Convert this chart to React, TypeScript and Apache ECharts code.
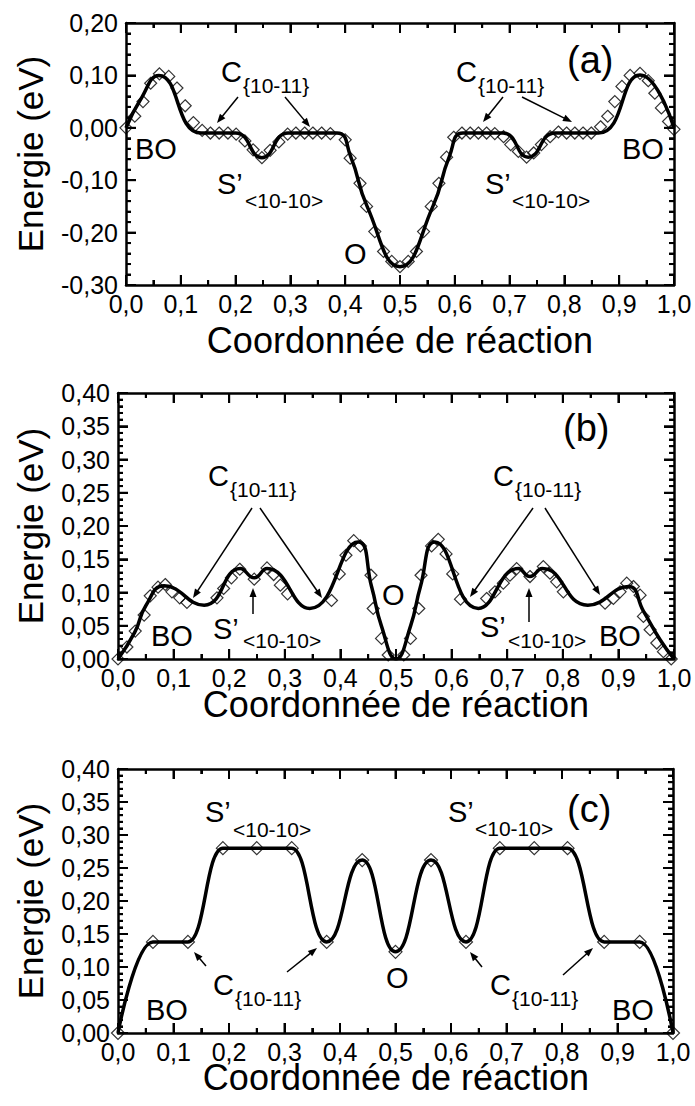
import React, { useEffect, useRef } from "react";
import * as echarts from "echarts";

// ---------- data ----------
// Panel (a): smooth fitted curve (key points) and computed points (diamonds)
const aLineX = [0, 0.026, 0.06, 0.137, 0.2, 0.248, 0.296, 0.385, 0.41, 0.44, 0.5, 0.56, 0.59, 0.615, 0.688, 0.734, 0.783, 0.862, 0.938, 1];
const aLineY = [0, 0.053, 0.1, -0.01, -0.01, -0.057, -0.01, -0.01, -0.055, -0.15, -0.265, -0.15, -0.055, -0.01, -0.01, -0.056, -0.01, -0.01, 0.101, 0];
const aMarkX = [
  0, 0.016, 0.031, 0.045, 0.061, 0.078, 0.093, 0.108, 0.123, 0.139,
  0.154, 0.17, 0.186, 0.201, 0.217, 0.232, 0.248, 0.263, 0.279, 0.295,
  0.31, 0.326, 0.341, 0.357, 0.373, 0.4, 0.409, 0.427, 0.439, 0.454,
  0.47, 0.485, 0.5, 0.515, 0.53, 0.543, 0.557, 0.571, 0.585, 0.598,
  0.613, 0.628, 0.643, 0.658, 0.673, 0.689, 0.702, 0.716, 0.731, 0.744,
  0.758, 0.774, 0.789, 0.804, 0.819, 0.834, 0.849, 0.866, 0.879, 0.892,
  0.905, 0.92, 0.938, 0.953, 0.965, 0.977, 0.99, 1.0,
];
const aMarkY = [
  0, 0.022, 0.05, 0.085, 0.103, 0.098, 0.076, 0.042, 0.01, -0.005,
  -0.01, -0.01, -0.01, -0.012, -0.025, -0.042, -0.057, -0.043, -0.027, -0.012,
  -0.01, -0.01, -0.01, -0.01, -0.011, -0.023, -0.058, -0.106, -0.15, -0.198,
  -0.236, -0.255, -0.265, -0.255, -0.236, -0.198, -0.15, -0.106, -0.056, -0.018,
  -0.01, -0.01, -0.01, -0.01, -0.011, -0.017, -0.032, -0.045, -0.056, -0.048,
  -0.032, -0.017, -0.008, -0.01, -0.01, -0.01, -0.01, 0.002, 0.022, 0.05,
  0.079, 0.1, 0.104, 0.09, 0.066, 0.038, 0.012, -0.003,
];

// Panel (b)
const bLineX = [0, 0.03, 0.05, 0.083, 0.155, 0.22, 0.245, 0.268, 0.345, 0.432, 0.456, 0.474, 0.5, 0.526, 0.544, 0.57, 0.648, 0.72, 0.741, 0.763, 0.845, 0.918, 0.945, 0.975, 1];
const bLineY = [0, 0.04, 0.08, 0.11, 0.081, 0.136, 0.122, 0.136, 0.076, 0.176, 0.109, 0.049, 0, 0.049, 0.109, 0.176, 0.076, 0.136, 0.124, 0.136, 0.081, 0.109, 0.072, 0.029, 0];
const bMarkX = [
  0, 0.016, 0.031, 0.047, 0.058, 0.072, 0.085, 0.097, 0.111, 0.124,
  0.178, 0.19, 0.204, 0.219, 0.245, 0.268, 0.28, 0.292, 0.305,
  0.384, 0.398, 0.41, 0.424, 0.436, 0.455, 0.459, 0.474, 0.486,
  0.514, 0.526, 0.541, 0.545, 0.564, 0.576, 0.59, 0.602, 0.616,
  0.663, 0.678, 0.693, 0.705, 0.717, 0.741, 0.765, 0.777, 0.789, 0.801,
  0.876, 0.891, 0.903, 0.915, 0.927, 0.939, 0.945, 0.957, 0.969, 0.981, 0.995,
];
const bMarkY = [
  0, 0.018, 0.042, 0.066, 0.095, 0.108, 0.112, 0.101, 0.092, 0.085,
  0.092, 0.106, 0.122, 0.135, 0.12, 0.137, 0.127, 0.111, 0.098,
  0.088, 0.128, 0.156, 0.178, 0.17, 0.126, 0.076, 0.031, 0.006,
  0.006, 0.031, 0.076, 0.126, 0.17, 0.18, 0.158, 0.128, 0.09,
  0.091, 0.101, 0.114, 0.126, 0.136, 0.124, 0.139, 0.129, 0.116, 0.101,
  0.084, 0.091, 0.101, 0.114, 0.109, 0.096, 0.064, 0.044, 0.024, 0.011, 0,
];

// Panel (c)
const cX = [0, 0.063, 0.126, 0.189, 0.25, 0.313, 0.376, 0.44, 0.5, 0.564, 0.627, 0.688, 0.75, 0.81, 0.876, 0.94, 1];
const cY = [0, 0.138, 0.138, 0.28, 0.28, 0.28, 0.138, 0.262, 0.123, 0.262, 0.138, 0.28, 0.28, 0.28, 0.138, 0.138, 0];

// Tick values (major) of the axes
const xMajorTicks = [0, 0.1, 0.2, 0.3, 0.4, 0.5, 0.6, 0.7, 0.8, 0.9, 1.0];
const yMajorTicksA = [-0.3, -0.2, -0.1, 0, 0.1, 0.2];
const yMajorTicksBC = [0, 0.05, 0.1, 0.15, 0.2, 0.25, 0.3, 0.35, 0.4];

const panelTags = ["(a)", "(b)", "(c)"];
const xTitle = "Coordonnée de réaction";
const yTitle = "Energie (eV)";

// ---------- helpers ----------
const F = '"Liberation Sans", Arial, Helvetica, sans-serif';
const zip = (xs: number[], ys: number[]) => xs.map((x, i) => [x, ys[i]]);

function T(x: number, y: number, text: string, size: number, align = "left", rotation = 0) {
  return {
    type: "text",
    x,
    y,
    rotation,
    silent: true,
    style: { text, fontSize: size, fontFamily: F, fill: "#000", align, verticalAlign: "middle" },
  };
}

function L(x1: number, y1: number, x2: number, y2: number, w = 1.5) {
  return { type: "line", silent: true, z: 10, shape: { x1, y1, x2, y2 }, style: { stroke: "#000", lineWidth: w } };
}

function arrow(x1: number, y1: number, x2: number, y2: number) {
  const dx = x2 - x1;
  const dy = y2 - y1;
  const len = Math.hypot(dx, dy);
  const ux = dx / len;
  const uy = dy / len;
  const h = 9;
  const w = 3.5;
  const bx = x2 - ux * h;
  const by = y2 - uy * h;
  return [
    L(x1, y1, bx + ux * 2, by + uy * 2),
    {
      type: "polygon",
      silent: true,
      shape: { points: [[x2, y2], [bx - uy * w, by + ux * w], [bx + uy * w, by - ux * w]] },
      style: { fill: "#000" },
    },
  ];
}

const grids = [
  { left: 126, top: 23, width: 548, height: 262 },
  { left: 118, top: 393, width: 556, height: 266 },
  { left: 118, top: 769, width: 555, height: 264 },
];
const yRanges = [
  { min: -0.3, max: 0.2, interval: 0.1 },
  { min: 0, max: 0.4, interval: 0.05 },
  { min: 0, max: 0.4, interval: 0.05 },
];

const tickLine = { color: "#000", width: 2 };

function buildAxes() {
  const xAxis: any[] = [];
  const yAxis: any[] = [];
  grids.forEach((_, g) => {
    ["bottom", "top"].forEach((pos) => {
      xAxis.push({
        type: "value",
        gridIndex: g,
        position: pos,
        min: 0,
        max: 1,
        interval: 0.1,
        axisLine: { show: true, onZero: false, lineStyle: { color: "#000", width: 2.5 } },
        axisTick: { show: true, inside: true, length: 10, lineStyle: tickLine },
        minorTick: { show: true, splitNumber: 2, length: 5, lineStyle: tickLine },
        splitLine: { show: false },
        axisLabel: {
          show: pos === "bottom",
          margin: 6,
          color: "#000",
          fontSize: 25,
          fontFamily: F,
          formatter: (v: number) => v.toFixed(1).replace(".", ","),
        },
      });
    });
    ["left", "right"].forEach((pos) => {
      yAxis.push({
        type: "value",
        gridIndex: g,
        position: pos,
        min: yRanges[g].min,
        max: yRanges[g].max,
        interval: yRanges[g].interval,
        axisLine: { show: true, onZero: false, lineStyle: { color: "#000", width: 2.5 } },
        axisTick: { show: true, inside: true, length: 10, lineStyle: tickLine },
        minorTick: { show: true, splitNumber: 5, length: 5, lineStyle: tickLine },
        splitLine: { show: false },
        axisLabel: {
          show: pos === "left",
          margin: 8,
          color: "#000",
          fontSize: 25,
          fontFamily: F,
          formatter: (v: number) => v.toFixed(2).replace(".", ","),
        },
      });
    });
  });
  return { xAxis, yAxis };
}

// Tick positions: majors plus evenly split minors between them
function withMinors(major: number[], split: number) {
  const out: { v: number; len: number }[] = [];
  major.forEach((v, i) => {
    out.push({ v, len: 10 });
    if (i < major.length - 1) {
      const step = (major[i + 1] - v) / split;
      for (let k = 1; k < split; k++) out.push({ v: v + step * k, len: 5 });
    }
  });
  return out;
}

// value -> pixel through the chart's axis scale, with a linear fallback on the same grid
function toPx(chart: any, finder: any, v: number, lo: number, hi: number, p0: number, p1: number) {
  let r: any = null;
  try {
    r = chart.convertToPixel(finder, v);
  } catch (e) {
    r = null;
  }
  if (Array.isArray(r)) r = finder.xAxisIndex != null ? r[0] : r[1];
  if (typeof r !== "number" || !isFinite(r)) r = p0 + ((v - lo) / (hi - lo)) * (p1 - p0);
  return r;
}

// Inside tick marks on all four sides (drawn on top of the axis ticks, same places)
function buildTicks(chart: any) {
  const out: any[] = [];
  grids.forEach((gr, g) => {
    const xi = { xAxisIndex: g * 2 };
    const yi = { yAxisIndex: g * 2 };
    const { min: yMin, max: yMax } = yRanges[g];
    const left = gr.left;
    const right = gr.left + gr.width;
    const top = gr.top;
    const bottom = gr.top + gr.height;
    withMinors(xMajorTicks, 2).forEach(({ v, len }) => {
      const px = toPx(chart, xi, v, 0, 1, left, right);
      out.push(L(px, bottom, px, bottom - len, 2));
      out.push(L(px, top, px, top + len, 2));
    });
    withMinors(g === 0 ? yMajorTicksA : yMajorTicksBC, 5).forEach(({ v, len }) => {
      const py = toPx(chart, yi, v, yMin, yMax, bottom, top);
      out.push(L(left, py, left + len, py, 2));
      out.push(L(right, py, right - len, py, 2));
    });
  });
  return out;
}

function lineSeries(g: number, data: number[][], smooth: number, mono: boolean) {
  return {
    type: "line",
    xAxisIndex: g * 2,
    yAxisIndex: g * 2,
    data,
    smooth,
    smoothMonotone: mono ? "x" : undefined,
    showSymbol: false,
    symbol: "none",
    lineStyle: { color: "#000", width: 3.5 },
    z: 3,
    silent: true,
  };
}

function markSeries(g: number, data: number[][], size: number) {
  return {
    type: "scatter",
    xAxisIndex: g * 2,
    yAxisIndex: g * 2,
    data,
    symbol: "diamond",
    symbolSize: size,
    clip: false,
    itemStyle: { color: "rgba(255,255,255,0)", borderColor: "#000", borderWidth: 1.2 },
    z: 2,
    silent: true,
  };
}

function buildGraphics() {
  const g: any[] = [];
  const yCenters = [154, 526, 901];
  const xCenters = [400, 396, 396];
  const xTitleY = [340, 704, 1077];
  for (let i = 0; i < 3; i++) {
    g.push(T(30, yCenters[i], yTitle, 35, "center", Math.PI / 2));
    g.push(T(xCenters[i], xTitleY[i], xTitle, 36, "center"));
  }
  g.push(T(567, 60, panelTags[0], 38));
  g.push(T(563, 428, panelTags[1], 38));
  g.push(T(567, 809, panelTags[2], 38));

  const C = (x: number, y: number) => {
    g.push(T(x, y, "C", 29));
    g.push(T(x + 22, y + 13, "{10-11}", 21));
  };
  const S = (x: number, y: number, dx = 28, dy = 16) => {
    g.push(T(x, y, "S\u2019", 29));
    g.push(T(x + dx, y + dy, "<10-10>", 21));
  };

  // ----- panel (a) -----
  C(221, 72);
  C(456, 72);
  S(217, 184);
  S(485, 184, 27, 16);
  g.push(T(135, 149, "BO", 29));
  g.push(T(622, 149, "BO", 29));
  g.push(T(344, 254, "O", 29));
  g.push(...arrow(238, 97, 217, 123));
  g.push(...arrow(285, 97, 310, 127));
  g.push(...arrow(503, 97, 483, 122));
  g.push(...arrow(522, 97, 572, 122));

  // ----- panel (b) -----
  C(208, 476);
  C(493, 476);
  S(213, 629, 30, 11);
  S(480, 627, 28, 13);
  g.push(T(151, 636, "BO", 29));
  g.push(T(599, 636, "BO", 29));
  g.push(T(382, 595, "O", 29));
  g.push(...arrow(252, 508, 193, 598));
  g.push(...arrow(260, 508, 322, 598));
  g.push(...arrow(533, 508, 470, 597));
  g.push(...arrow(545, 508, 600, 595));
  g.push(...arrow(253, 614, 253, 588));
  g.push(...arrow(529, 622, 529, 588));

  // ----- panel (c) -----
  S(205, 812, 28, 17);
  S(448, 812, 27, 16);
  C(213, 985);
  C(490, 985);
  g.push(T(146, 1010, "BO", 29));
  g.push(T(612, 1010, "BO", 29));
  g.push(T(386, 978, "O", 29));
  g.push(...arrow(206, 966, 194, 952));
  g.push(...arrow(287, 972, 317, 948));
  g.push(...arrow(482, 967, 470, 952));
  g.push(...arrow(563, 975, 593, 948));
  return g;
}

export default function App() {
  const ref = useRef<HTMLDivElement>(null);
  useEffect(() => {
    if (!ref.current) return;
    const chart = echarts.init(ref.current, null, { renderer: "svg" });
    const { xAxis, yAxis } = buildAxes();
    chart.setOption({
      animation: false,
      backgroundColor: "#fff",
      grid: grids.map((g) => ({ ...g, containLabel: false })),
      xAxis,
      yAxis,
      series: [
        markSeries(0, zip(aMarkX, aMarkY), 12),
        lineSeries(0, zip(aLineX, aLineY), 0.5, false),
        markSeries(1, zip(bMarkX, bMarkY), 12),
        lineSeries(1, zip(bLineX, bLineY), 0.5, false),
        markSeries(2, zip(cX, cY), 13),
        lineSeries(2, zip(cX, cY), 0.5, true),
      ],
    });
    chart.setOption({ graphic: [...buildTicks(chart), ...buildGraphics()] });
    return () => chart.dispose();
  }, []);
  return <div ref={ref} style={{ position: "absolute", left: 0, top: 0, width: 695, height: 1106 }} />;
}
